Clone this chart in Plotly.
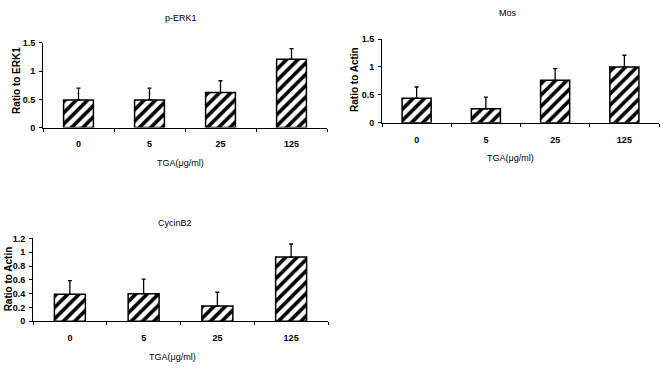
import plotly.graph_objects as go

W, H = 661, 369

categories = ["0", "5", "25", "125"]

erk_title = "p-ERK1"
erk_ylabel = "Ratio to ERK1"
erk_vals = [0.49, 0.49, 0.62, 1.21]
erk_err = [0.21, 0.21, 0.21, 0.19]

mos_title = "Mos"
mos_ylabel = "Ratio to Actin"
mos_vals = [0.44, 0.25, 0.76, 1.00]
mos_err = [0.20, 0.21, 0.21, 0.21]

cyc_title = "CycinB2"
cyc_ylabel = "Ratio to Actin"
cyc_vals = [0.39, 0.40, 0.22, 0.93]
cyc_err = [0.20, 0.21, 0.20, 0.19]

xlabel = "TGA(μg/ml)"

FONT = "Liberation Sans"

fig = go.Figure()

panels = [
    dict(vals=erk_vals, err=erk_err, title=erk_title, ylab=erk_ylabel,
         xpx=(43, 327), ypx=(126, 39), yr=1.5, dt=0.5,
         tpos=(181, 13), xtpos=(180, 162), ytpos=(17, 78)),
    dict(vals=mos_vals, err=mos_err, title=mos_title, ylab=mos_ylabel,
         xpx=(382, 659), ypx=(121, 35), yr=1.5, dt=0.5,
         tpos=(508, 8), xtpos=(510, 157), ytpos=(355, 77)),
    dict(vals=cyc_vals, err=cyc_err, title=cyc_title, ylab=cyc_ylabel,
         xpx=(33, 328), ypx=(325, 240), yr=1.2, dt=0.2,
         tpos=(175, 224), xtpos=(172, 362), ytpos=(8, 282)),
]

annotations = []
for i, p in enumerate(panels, start=1):
    xa = "x" if i == 1 else f"x{i}"
    ya = "y" if i == 1 else f"y{i}"
    fig.add_trace(go.Bar(
        x=categories, y=p["vals"], xaxis=xa, yaxis=ya, width=0.42,
        marker=dict(color="white", line=dict(color="black", width=1.5),
                    pattern=dict(shape="/", fgcolor="black", bgcolor="white",
                                 fgopacity=1, size=8, solidity=0.45)),
        error_y=dict(type="data", array=p["err"], arrayminus=[0] * len(p["err"]),
                     symmetric=False, color="black", thickness=1.3, width=2),
        showlegend=False, hoverinfo="skip",
    ))
    xkey = "xaxis" if i == 1 else f"xaxis{i}"
    ykey = "yaxis" if i == 1 else f"yaxis{i}"
    fig.update_layout(**{
        xkey: dict(domain=[p["xpx"][0] / W, p["xpx"][1] / W], anchor=ya,
                   type="category", showline=True, linecolor="black", linewidth=1,
                   ticks="outside", tickson="boundaries", ticklen=3, tickcolor="black",
                   ticklabelstandoff=8, showgrid=False, zeroline=False,
                   tickfont=dict(family=FONT, size=9, color="black", weight="bold")),
        ykey: dict(domain=[1 - p["ypx"][0] / H, 1 - p["ypx"][1] / H], anchor=xa,
                   range=[0, p["yr"]], dtick=p["dt"], tick0=0,
                   showline=True, linecolor="black", linewidth=1,
                   ticks="outside", ticklen=3, tickcolor="black",
                   ticklabelstandoff=2, showgrid=False, zeroline=False,
                   tickfont=dict(family=FONT, size=9, color="black", weight="bold")),
    })
    annotations.append(dict(text=p["title"], x=p["tpos"][0] / W, y=1 - p["tpos"][1] / H,
                            xref="paper", yref="paper", showarrow=False,
                            xanchor="center", yanchor="middle",
                            font=dict(family=FONT, size=9, color="black")))
    annotations.append(dict(text=xlabel, x=p["xtpos"][0] / W, y=1 - p["xtpos"][1] / H,
                            xref="paper", yref="paper", showarrow=False,
                            xanchor="center", yanchor="middle",
                            font=dict(family=FONT, size=9, color="black")))
    annotations.append(dict(text=p["ylab"], x=p["ytpos"][0] / W, y=1 - p["ytpos"][1] / H,
                            xref="paper", yref="paper", showarrow=False, textangle=-90,
                            xanchor="center", yanchor="middle",
                            font=dict(family=FONT, size=10, color="black", weight="bold")))

fig.update_layout(
    width=W, height=H, margin=dict(l=0, r=0, t=0, b=0),
    paper_bgcolor="white", plot_bgcolor="white",
    annotations=annotations, hovermode=False,
)

fig.write_html("out.html", config={"displayModeBar": False},
               post_script="document.body.style.margin='0';")
